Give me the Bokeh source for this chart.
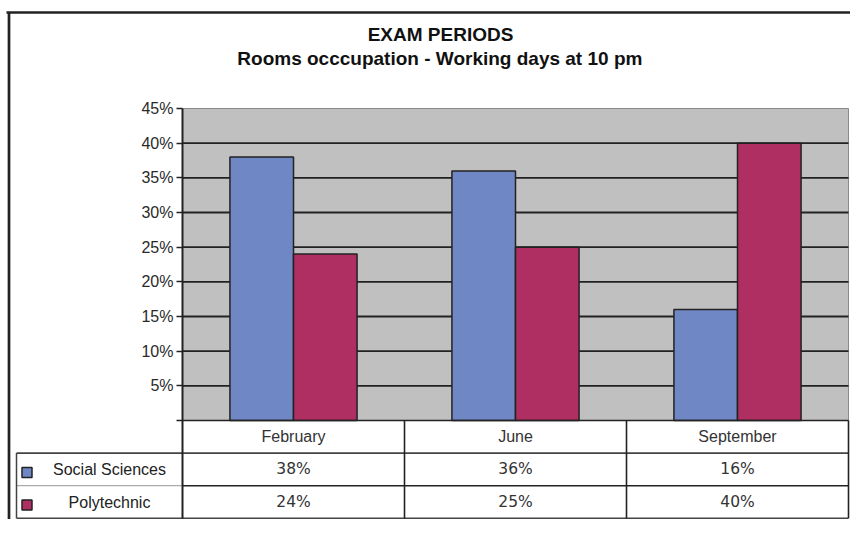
from bokeh.plotting import figure
from bokeh.models import Range1d, LinearAxis, FixedTicker
from bokeh.core.properties import value
from bokeh.embed import file_html
from bokeh.resources import INLINE

# ---- data ----
categories = ["February", "June", "September"]
series_names = ["Social Sciences", "Polytechnic"]
social_sciences = [38, 36, 16]
polytechnic = [24, 25, 40]
y_ticks = [0, 5, 10, 15, 20, 25, 30, 35, 40, 45]
y_tick_labels = ["", "5%", "10%", "15%", "20%", "25%", "30%", "35%", "40%", "45%"]
title_text = "EXAM PERIODS"
subtitle_text = "Rooms occcupation  - Working days at 10 pm"

# ---- layout constants (pixels inside the canvas) ----
W_FIG, H_FIG = 850, 519
PL, PR = 182, 848          # plot area left / right
GW = (PR - PL) / 3.0       # px per category
PY0, PY45 = 420, 108       # px of 0% and 45%
S = (PY0 - PY45) / 45.0    # px per percent
ROW = 32.6 / S             # table row height in data units


def X(px):
    return (px - PL) / GW


def Y(py):
    return (PY0 - py) / S


BLUE = "#7087C5"
RED = "#B02F62"
DARK = "#222222"
FONT = "Liberation Sans"

p = figure(width=W_FIG, height=H_FIG, output_backend="svg", toolbar_location=None,
           x_axis_location=None, y_axis_location=None, min_border=0,
           x_range=Range1d(X(0), X(W_FIG)), y_range=Range1d(Y(H_FIG), Y(0)))
p.outline_line_color = None
p.background_fill_color = "white"
p.border_fill_color = "white"
p.grid.visible = False

n = len(categories)
top = max(y_ticks)

# plot background
p.quad(left=[0], right=[n], bottom=[0], top=[top], fill_color="#C0C0C0",
       line_color="#8a8a8a", line_width=1)

# grid lines
grid_vals = [t for t in y_ticks if 0 < t < top]
p.segment(x0=[0] * len(grid_vals), x1=[n] * len(grid_vals), y0=grid_vals, y1=grid_vals,
          line_color=DARK, line_width=1.8)

# bars
BW = 65.0 / 227.0
xs = [i + 0.5 for i in range(n)]
p.vbar(x=[x - BW / 2 for x in xs], top=social_sciences, bottom=0, width=BW,
       fill_color=BLUE, line_color=DARK, line_width=1.5)
p.vbar(x=[x + BW / 2 for x in xs], top=polytechnic, bottom=0, width=BW,
       fill_color=RED, line_color=DARK, line_width=1.5)

# y axis
yaxis = LinearAxis(fixed_location=0, ticker=FixedTicker(ticks=y_ticks),
                   major_label_overrides={t: l for t, l in zip(y_ticks, y_tick_labels)},
                   bounds=(-3 * ROW, top))
yaxis.axis_line_color = DARK
yaxis.axis_line_width = 2
yaxis.major_tick_line_color = DARK
yaxis.major_tick_line_width = 1.5
yaxis.major_tick_out = 6
yaxis.major_tick_in = 0
yaxis.minor_tick_line_color = None
yaxis.major_label_standoff = 3
yaxis.major_label_text_font = FONT
yaxis.major_label_text_font_size = "16px"
yaxis.major_label_text_color = "#2a2a2a"
p.add_layout(yaxis, "left")

# table lines
leg_left = X(16)
p.segment(x0=[0, leg_left, 0, leg_left], x1=[n, n, n, n],
          y0=[0, -ROW, -2 * ROW, -3 * ROW], y1=[0, -ROW, -2 * ROW, -3 * ROW],
          line_color=[DARK, "#444444", DARK, "#444444"], line_width=1.6)
p.segment(x0=[leg_left], x1=[0], y0=[-2 * ROW], y1=[-2 * ROW],
          line_color="#aaaaaa", line_width=1.2)
p.segment(x0=[1, 2, n], x1=[1, 2, n], y0=[0] * 3, y1=[-3 * ROW] * 3,
          line_color=DARK, line_width=1.6)
p.segment(x0=[leg_left], x1=[leg_left], y0=[-ROW], y1=[-3 * ROW],
          line_color="#444444", line_width=1.5)

# table header and values
p.text(x=xs, y=[-ROW / 2] * n, text=categories, text_font=value(FONT),
       text_font_size="16px", text_color="#333333", text_align="center",
       text_baseline="middle")
p.text(x=xs, y=[-1.5 * ROW] * n, text=[f"{v}%" for v in social_sciences],
       text_font=value("DejaVu Sans"), text_font_size="15.5px", text_color="#333333",
       text_align="center", text_baseline="middle")
p.text(x=xs, y=[-2.5 * ROW] * n, text=[f"{v}%" for v in polytechnic],
       text_font=value("DejaVu Sans"), text_font_size="15.5px", text_color="#333333",
       text_align="center", text_baseline="middle")

# legend column
row_centers = [-1.5 * ROW, -2.5 * ROW]
p.scatter(x=[X(26.5)] * 2, y=[c - 3 / S for c in row_centers], marker="square", size=10,
          fill_color=[BLUE, RED], line_color=DARK, line_width=1.5)
p.text(x=[X(109)] * 2, y=row_centers, text=series_names, text_font=value(FONT),
       text_font_size="16px", text_color="#222222", text_align="center",
       text_baseline="middle")

# titles
p.text(x=[X(440)], y=[Y(34)], text=[title_text], text_font=value(FONT),
       text_font_size="19px", text_font_style="bold", text_color="#111111",
       text_align="center", text_baseline="middle")
p.text(x=[X(442)], y=[Y(58)], text=[subtitle_text], text_font=value(FONT),
       text_font_size="19px", text_font_style="bold", text_color="#111111",
       text_align="center", text_baseline="middle")

# outer border
p.segment(x0=[X(6)], x1=[X(W_FIG)], y0=[Y(12)], y1=[Y(12)], line_color=DARK, line_width=2.7)
p.segment(x0=[X(8.5)], x1=[X(8.5)], y0=[Y(12)], y1=[Y(H_FIG)], line_color=DARK, line_width=2.7)

open("out.html", "w").write(file_html(p, INLINE))
